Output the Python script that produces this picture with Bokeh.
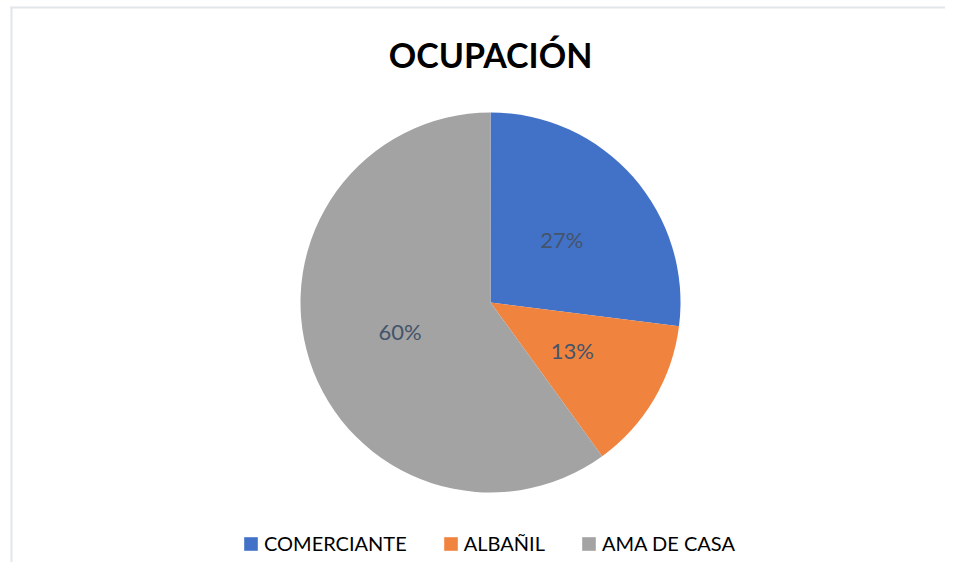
import numpy as np
from bokeh.plotting import figure
from bokeh.models import Range1d, ColumnDataSource, Legend, LegendItem
from bokeh.core.properties import value
from bokeh.embed import file_html
from bokeh.resources import INLINE

# ---- data ----
categories = ["COMERCIANTE", "ALBAÑIL", "AMA DE CASA"]
percentages = [27, 13, 60]
colors = ["#4271C8", "#F0843F", "#A3A3A3"]
title_text = "OCUPACIÓN"

W, H = 945, 562
CX, CY, R = 490, 260, 190

fracs = np.array(percentages, dtype=float) / sum(percentages)
cum_end = np.cumsum(fracs)
cum_start = cum_end - fracs
start_angle = np.pi / 2 - 2 * np.pi * cum_end
end_angle = np.pi / 2 - 2 * np.pi * cum_start
mid = (start_angle + end_angle) / 2

src = ColumnDataSource(dict(
    cat=categories, start=start_angle, end=end_angle, color=colors,
    lx=CX + 0.5 * R * np.cos(mid), ly=CY + 0.5 * R * np.sin(mid),
    label=[f"{v}%" for v in percentages],
))

p = figure(width=W, height=H, output_backend="svg", toolbar_location=None,
           x_range=Range1d(0, W), y_range=Range1d(0, H),
           min_border=0, min_border_left=0, min_border_right=0,
           min_border_top=0, min_border_bottom=0)
p.axis.visible = False
p.grid.visible = False
p.outline_line_color = None
p.background_fill_color = "white"
p.border_fill_color = "white"

# chart border (left and top visible)
p.segment(x0=[11, 10], y0=[-5, 555], x1=[11, W + 5], y1=[556, 555],
          line_color="#E2E5EA", line_width=2)

wr = p.wedge(x=CX, y=CY, radius=R, start_angle="start", end_angle="end",
             fill_color="color", line_color=None, source=src)

p.text(x="lx", y="ly", text="label", source=src, text_align="center",
       text_baseline="middle", text_font=value("Lato"),
       text_font_size="22px", text_color="#44546A")

p.text(x=[CX], y=[H - 54], text=[title_text], text_align="center",
       text_baseline="middle", text_font=value("Lato"),
       text_font_size="34px", text_font_style="bold", text_color="#000000")

items = [LegendItem(label=c, renderers=[wr], index=i) for i, c in enumerate(categories)]
legend = Legend(items=items, orientation="horizontal", location=(242, 7),
                glyph_width=17, glyph_height=17, label_standoff=5, spacing=35,
                label_text_font="Lato", label_text_font_size="20px",
                label_text_color="#000000", border_line_color=None,
                background_fill_alpha=0, padding=0, margin=0)
p.add_layout(legend, "center")

open("out.html", "w").write(file_html(p, INLINE))
